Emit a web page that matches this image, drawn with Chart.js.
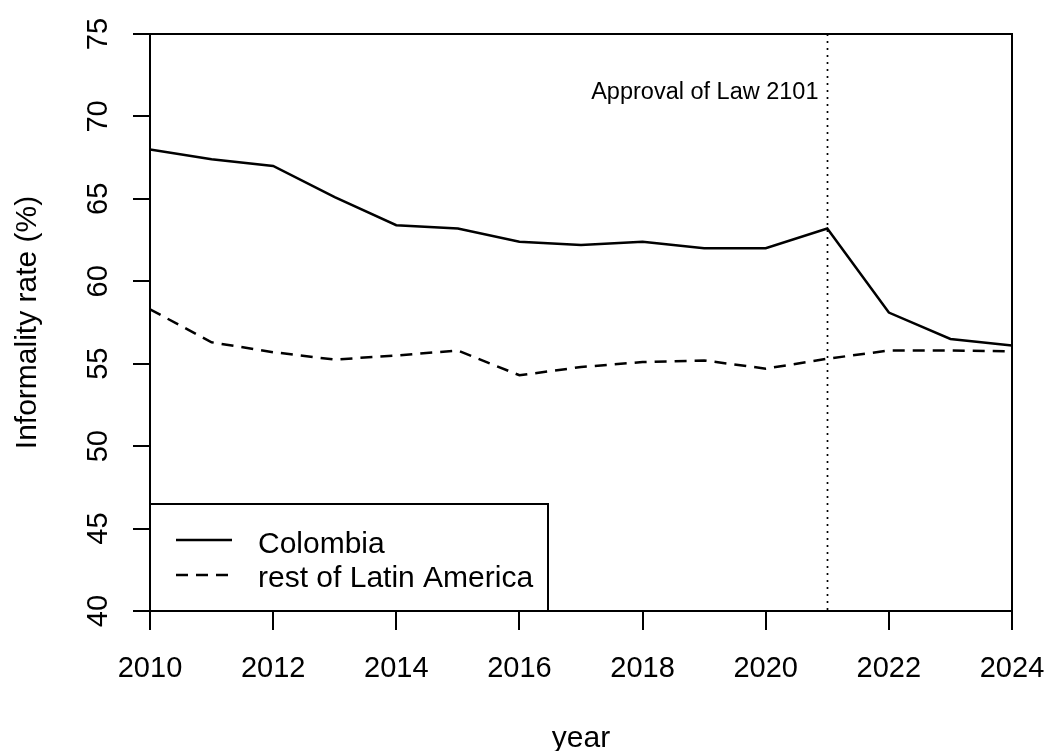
<!DOCTYPE html>
<html>
<head>
<meta charset="utf-8">
<script src="https://cdn.jsdelivr.net/npm/chart.js@4/dist/chart.umd.min.js"></script>
<style>
  html, body { margin: 0; padding: 0; background: #ffffff; }
  #wrap { width: 1048px; height: 751px; }
</style>
</head>
<body>
<div id="wrap"><canvas id="chart" width="1048" height="751"></canvas></div>
<script>
// Informality rate, Colombia vs. rest of Latin America, 2010-2024
const years = [2010, 2011, 2012, 2013, 2014, 2015, 2016, 2017, 2018, 2019, 2020, 2021, 2022, 2023, 2024];
const colombia = [68.0, 67.4, 67.0, 65.1, 63.4, 63.2, 62.4, 62.2, 62.4, 62.0, 62.0, 63.2, 58.1, 56.5, 56.1];
const restLatAm = [58.3, 56.3, 55.7, 55.25, 55.5, 55.8, 54.3, 54.8, 55.1, 55.2, 54.7, 55.3, 55.8, 55.8, 55.75];
const xTicks = [2010, 2012, 2014, 2016, 2018, 2020, 2022, 2024];
const yTicks = [40, 45, 50, 55, 60, 65, 70, 75];
const seriesNames = ['Colombia', 'rest of Latin America'];
const lawYear = 2021;
const lawLabel = 'Approval of Law 2101';
const xTitle = 'year';
const yTitle = 'Informality rate (%)';

const FONT = 'Arial, "Liberation Sans", sans-serif';

const toPoints = vals => vals.map((v, i) => ({ x: years[i], y: v }));

// Draws tick labels, axis titles, the plot frame, the law marker and the legend
const decorations = {
  id: 'decorations',
  beforeDatasetsDraw(chart) {
    const ctx = chart.ctx;
    const { x } = chart.scales;
    const a = chart.chartArea;
    ctx.save();
    // dotted vertical marker
    const lx = Math.round(x.getPixelForValue(lawYear)) + 0.5;
    ctx.strokeStyle = '#000';
    ctx.lineWidth = 1.7;
    ctx.setLineDash([2, 5]);
    ctx.beginPath();
    ctx.moveTo(lx, a.top);
    ctx.lineTo(lx, a.bottom);
    ctx.stroke();
    ctx.setLineDash([]);
    // annotation text
    ctx.fillStyle = '#000';
    ctx.font = '23.5px ' + FONT;
    ctx.textAlign = 'right';
    ctx.textBaseline = 'alphabetic';
    ctx.fillText(lawLabel, lx - 9, 99);
    ctx.restore();
  },
  afterDatasetsDraw(chart) {
    const ctx = chart.ctx;
    const { x, y } = chart.scales;
    const a = chart.chartArea;
    ctx.save();
    ctx.fillStyle = '#000';
    ctx.strokeStyle = '#000';

    // x tick labels
    ctx.font = '29px ' + FONT;
    ctx.textAlign = 'center';
    ctx.textBaseline = 'alphabetic';
    xTicks.forEach(t => ctx.fillText(String(t), x.getPixelForValue(t), 677));

    // y tick labels, rotated
    yTicks.forEach(t => {
      ctx.save();
      ctx.translate(107, y.getPixelForValue(t));
      ctx.rotate(-Math.PI / 2);
      ctx.textAlign = 'center';
      ctx.textBaseline = 'alphabetic';
      ctx.fillText(String(t), 0, 0);
      ctx.restore();
    });

    // axis titles
    ctx.font = '30px ' + FONT;
    ctx.textAlign = 'center';
    ctx.fillText(xTitle, (a.left + a.right) / 2, 747);
    ctx.save();
    ctx.translate(36, (a.top + a.bottom) / 2);
    ctx.rotate(-Math.PI / 2);
    ctx.fillText(yTitle, 0, 0);
    ctx.restore();

    // plot frame
    ctx.lineWidth = 2;
    ctx.strokeRect(a.left, a.top, a.right - a.left, a.bottom - a.top);

    // legend box in the lower-left corner
    const bx = a.left, by = 504, bw = 398, bh = a.bottom - 504;
    ctx.fillStyle = '#fff';
    ctx.fillRect(bx, by, bw, bh);
    ctx.lineWidth = 2;
    ctx.strokeRect(bx, by, bw, bh);
    const rows = [
      { name: seriesNames[0], dash: [], lineY: 540, textY: 553 },
      { name: seriesNames[1], dash: [12, 8], lineY: 575, textY: 587 }
    ];
    rows.forEach(r => {
      ctx.lineWidth = 2.5;
      ctx.setLineDash(r.dash);
      ctx.beginPath();
      ctx.moveTo(176, r.lineY);
      ctx.lineTo(232, r.lineY);
      ctx.stroke();
      ctx.setLineDash([]);
      ctx.fillStyle = '#000';
      ctx.font = '30px ' + FONT;
      ctx.textAlign = 'left';
      ctx.fillText(r.name, 258, r.textY);
    });
    ctx.restore();
  }
};

new Chart(document.getElementById('chart'), {
  type: 'line',
  data: {
    datasets: [
      {
        label: seriesNames[0],
        data: toPoints(colombia),
        borderColor: '#000',
        borderWidth: 2.5,
        pointRadius: 0,
        tension: 0,
        fill: false
      },
      {
        label: seriesNames[1],
        data: toPoints(restLatAm),
        borderColor: '#000',
        borderWidth: 2.5,
        borderDash: [12, 8],
        pointRadius: 0,
        tension: 0,
        fill: false
      }
    ]
  },
  options: {
    responsive: false,
    animation: false,
    events: [],
    layout: { padding: { top: 34, right: 36, left: 0, bottom: 0 }, autoPadding: false },
    plugins: { legend: { display: false }, tooltip: { enabled: false } },
    scales: {
      x: {
        type: 'linear',
        min: 2010,
        max: 2024,
        afterFit: s => { s.height = 140; },
        afterBuildTicks: s => { s.ticks = xTicks.map(v => ({ value: v })); },
        ticks: { display: false },
        grid: { drawOnChartArea: false, drawTicks: true, tickLength: 19, color: '#000', lineWidth: 2 },
        border: { display: true, color: '#000', width: 2 }
      },
      y: {
        type: 'linear',
        min: 40,
        max: 75,
        afterFit: s => { s.width = 150; },
        afterBuildTicks: s => { s.ticks = yTicks.map(v => ({ value: v })); },
        ticks: { display: false },
        grid: { drawOnChartArea: false, drawTicks: true, tickLength: 17, color: '#000', lineWidth: 2 },
        border: { display: true, color: '#000', width: 2 }
      }
    }
  },
  plugins: [decorations]
});
</script>
</body>
</html>
